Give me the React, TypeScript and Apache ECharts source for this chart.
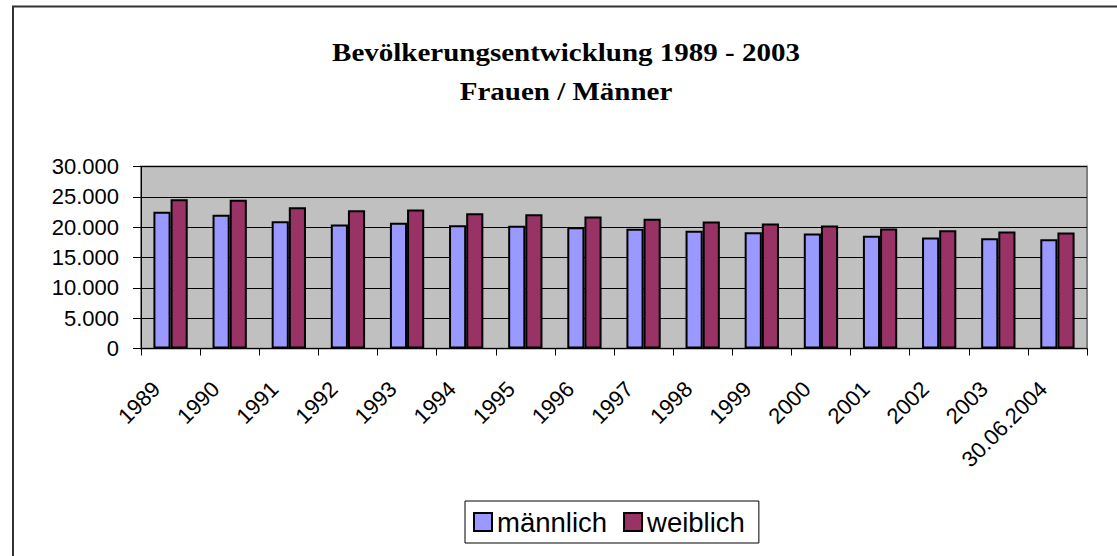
import React, { useEffect, useRef } from "react";
import * as echarts from "echarts";

const categories = [
  "1989", "1990", "1991", "1992", "1993", "1994", "1995", "1996",
  "1997", "1998", "1999", "2000", "2001", "2002", "2003", "30.06.2004",
];
const maleValues = [
  22530, 22030, 20990, 20440, 20710, 20330, 20220, 20000,
  19730, 19400, 19180, 18960, 18570, 18300, 18190, 18020,
];
const femaleValues = [
  24620, 24510, 23300, 22800, 22910, 22310, 22140, 21760,
  21370, 20930, 20600, 20270, 19780, 19510, 19290, 19120,
];
const seriesNames = ["männlich", "weiblich"];
const titleLines = ["Bevölkerungsentwicklung 1989 - 2003", "Frauen / Männer"];
const yMin = 0;
const yMax = 30000;
const yInterval = 5000;

const SANS = "'Liberation Sans', Arial, sans-serif";
const SERIF = "'Liberation Serif', 'Times New Roman', serif";

function formatThousands(v: number): string {
  return String(Math.round(v)).replace(/\B(?=(\d{3})+(?!\d))/g, ".");
}

export default function App() {
  const ref = useRef<HTMLDivElement>(null);

  useEffect(() => {
    if (!ref.current) return;
    const chart = echarts.init(ref.current, null, { renderer: "svg" });
    chart.setOption({
      animation: false,
      backgroundColor: "#ffffff",
      graphic: [
        {
          type: "rect",
          shape: { x: 13, y: 6.5, width: 1300, height: 800 },
          style: { fill: "none", stroke: "#333333", lineWidth: 2 },
          silent: true,
        },
        {
          type: "text",
          x: 566,
          y: 53,
          scaleX: 1.16,
          style: {
            text: titleLines[0],
            font: `bold 25px ${SERIF}`,
            fill: "#000",
            textAlign: "center",
            textVerticalAlign: "middle",
          },
        },
        {
          type: "text",
          x: 566,
          y: 92,
          scaleX: 1.16,
          style: {
            text: titleLines[1],
            font: `bold 25px ${SERIF}`,
            fill: "#000",
            textAlign: "center",
            textVerticalAlign: "middle",
          },
        },
      ],
      grid: {
        left: 141,
        right: 30,
        top: 166.5,
        bottom: 207.5,
        show: true,
        backgroundColor: "#C0C0C0",
        borderColor: "#808080",
        borderWidth: 2,
      },
      legend: {
        data: seriesNames,
        left: 465,
        top: 501,
        orient: "horizontal",
        padding: [7, 14, 7, 8],
        itemGap: 16,
        itemWidth: 18,
        itemHeight: 18,
        icon: "rect",
        borderColor: "#000",
        borderWidth: 1,
        textStyle: { fontSize: 27.5, fontFamily: SANS, color: "#000" },
      },
      xAxis: {
        type: "category",
        data: categories,
        boundaryGap: true,
        axisLine: { show: true, lineStyle: { color: "#000", width: 1 } },
        axisTick: { show: true, length: 7, lineStyle: { color: "#000" } },
        axisLabel: {
          rotate: 45,
          interval: 0,
          margin: 51,
          fontSize: 22,
          lineHeight: 40,
          verticalAlign: "bottom",
          fontFamily: SANS,
          color: "#000",
        },
        splitLine: { show: false },
      },
      yAxis: {
        type: "value",
        min: yMin,
        max: yMax,
        interval: yInterval,
        axisLine: { show: true, lineStyle: { color: "#000", width: 1 } },
        axisTick: { show: true, length: 8, lineStyle: { color: "#000" } },
        axisLabel: {
          margin: 22,
          fontSize: 22,
          fontFamily: SANS,
          color: "#000",
          formatter: (v: number) => formatThousands(v),
        },
        splitLine: { show: true, lineStyle: { color: "#000", width: 1 } },
      },
      series: [
        {
          name: seriesNames[0],
          type: "bar",
          data: maleValues,
          barGap: "0%",
          barCategoryGap: "42%",
          itemStyle: { color: "#9999FF", borderColor: "#000", borderWidth: 2 },
        },
        {
          name: seriesNames[1],
          type: "bar",
          data: femaleValues,
          barGap: "0%",
          barCategoryGap: "42%",
          itemStyle: { color: "#993366", borderColor: "#000", borderWidth: 2 },
        },
      ],
    });
    return () => chart.dispose();
  }, []);

  return (
    <div
      ref={ref}
      style={{ position: "absolute", left: 0, top: 0, width: 1117, height: 556 }}
    />
  );
}
